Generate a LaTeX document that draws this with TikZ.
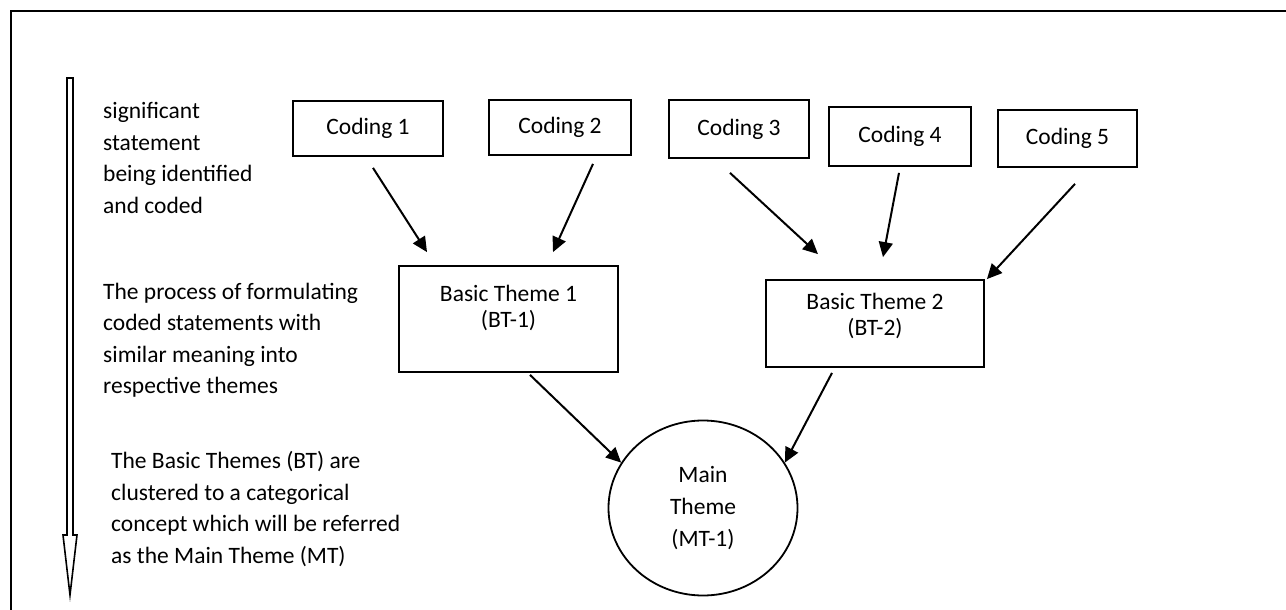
\documentclass[tikz,border=0pt]{standalone}
\usepackage{fontspec}
\setmainfont{Carlito}
\usepackage{tikz}
\usetikzlibrary{shapes.geometric}
\usetikzlibrary{calc}
\usetikzlibrary{positioning, arrows.meta}

\tikzset{
  txt/.style={font=\fontsize{23.5}{31.5}\selectfont},
  codebox/.style={draw, line width=1.8pt, inner sep=0pt, txt},
  themetext/.style={inner sep=0pt, align=center, font=\fontsize{23.5}{26}\selectfont},
  note/.style={anchor=north west, align=left, inner sep=0pt, txt},
  arr/.style={-{Triangle[length=15pt,width=14pt]}, line width=2pt}
}

\begin{document}
\begin{tikzpicture}[x=1pt,y=-1pt]
                  \useasboundingbox (0,0) rectangle (1286,610);
                  % frame
                  \draw[line width=2pt] (11,610) -- (11,11) -- (1286,11);
                  % process arrow on the left
                  \draw[line width=1.6pt, line join=miter] (67,78) -- (73,78) -- (73,535) -- (77,535)
                      -- (70,595) -- (63,535) -- (67,535) -- cycle;
                  \node[note] (step1) at (103,102.5) {significant\\statement\\being identified\\and coded};
                  \node[note] (step2) at (103,282.5) {The process of formulating\\coded statements with\\similar meaning into\\respective themes};
                  \node[note] (step3) at (111,451.5) {The Basic Themes (BT) are\\clustered to a categorical\\concept which will be referred\\as the Main Theme (MT)};
                  % codings
                  \node[codebox, minimum width=150pt, minimum height=55pt] (c1) at (368,128.5) {Coding 1};
                  \node[codebox, minimum width=142pt, minimum height=55pt] (c2) at (560,127.5) {Coding 2};
                  \node[codebox, minimum width=140pt, minimum height=58pt] (c3) at (739,129) {Coding 3};
                  \node[codebox, minimum width=142pt, minimum height=59pt] (c4) at (900,136.5) {Coding 4};
                  \node[codebox, minimum width=139pt, minimum height=57pt] (c5) at (1067.5,138.5) {Coding 5};
                  % basic themes
                  \node[codebox, minimum width=219pt, minimum height=106pt] (bt1) at (508.5,319) {};
                  \node[themetext, below=19.5pt of bt1.north] (bt1txt) {Basic Theme 1\\(BT-1)};
                  \node[codebox, minimum width=218pt, minimum height=87pt] (bt2) at (875,323.5) {};
                  \node[themetext, below=13.5pt of bt2.north] (bt2txt) {Basic Theme 2\\(BT-2)};
                  % main theme
                  \node[draw, ellipse, line width=1.8pt, minimum width=189pt, minimum height=175pt,
                        inner sep=0pt, align=center, font=\fontsize{23.5}{32}\selectfont] (mt) at (703,508)
                        {Main\\Theme\\(MT-1)};
                  \draw[arr] ($(c1.south)+(5,11)$) -- ($(bt1.north)+(-81.5,-13)$);
                  \draw[arr] ($(c2.south)+(33,8)$) -- ($(bt1.north)+(44.5,-13)$);
                  \draw[arr] ($(c3.south)+(-9,14)$) -- ($(bt2.north)+(-57,-25)$);
                  \draw[arr] ($(c4.south)+(-1,6)$) -- ($(bt2.north)+(8,-22)$);
                  \draw[arr] ($(c5.south)+(7.5,16)$) -- ($(bt2.north east)+(2,0)$);
                  \draw[arr] ($(bt1.south)+(21.5,2)$) -- (mt.151);
                  \draw[arr] ($(bt2.south)+(-43,5)$) -- (mt.29);
              \end{tikzpicture}
\end{document}
